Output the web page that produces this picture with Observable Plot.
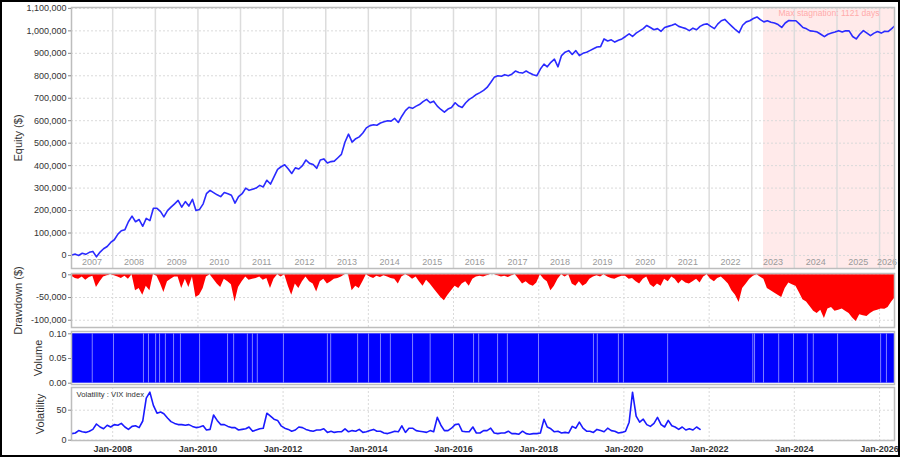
<!DOCTYPE html>
<html><head><meta charset="utf-8">
<script src="https://cdn.jsdelivr.net/npm/d3@7"></script>
<script src="https://cdn.jsdelivr.net/npm/@observablehq/plot@0.6"></script>
<style>
html,body{margin:0;padding:0;background:#fff;}
#wrap{position:relative;width:900px;height:457px;overflow:hidden;background:#fff;}
#wrap svg{position:absolute;left:0;}
#border{position:absolute;left:0;top:0;width:900px;height:457px;box-sizing:border-box;border:2px solid #000;pointer-events:none;z-index:5;}
</style></head><body>
<div id="wrap"><div id="border"></div></div>
<script>
// ---------- DATA ----------
// Equity in $ thousands, monthly samples starting Jan 2007
const equityStart = "2007-01-15";
const equity = [
  2, 6, 0, 10, 5, 14, 18, -6, 15, 30, 40, 58,
  70, 95, 110, 115, 150, 175, 150, 160, 130, 165, 155, 210,
  210, 195, 172, 200, 215, 230, 245, 215, 240, 220, 250, 200,
  205, 230, 275, 290, 280, 270, 262, 280, 275, 268, 233, 262,
  275, 300, 290, 295, 300, 312, 305, 335, 318, 350, 383, 395,
  404, 385, 365, 390, 385, 400, 425, 410, 405, 388, 425, 430,
  412, 418, 420, 435, 450, 505, 540, 505, 520, 528, 545, 568,
  578, 582, 580, 590, 595, 600, 598, 610, 592, 620, 645, 660,
  655, 665, 672, 685, 695, 680, 687, 665, 650, 638, 652, 659,
  680, 665, 659, 680, 695, 705, 717, 725, 735, 748, 770, 793,
  800, 798, 805, 800, 807, 821, 815, 812, 821, 812, 805, 800,
  830, 852, 840, 860, 874, 840, 890, 905, 912, 895, 912, 890,
  900, 905, 912, 920, 928, 930, 964, 955, 960, 950, 958, 964,
  975, 987, 975, 990, 1000, 1010, 1024, 1015, 1005, 1010, 998, 1015,
  1020, 1025, 1031, 1020, 1015, 1010, 1001, 1012, 1005, 1020, 1028, 1031,
  1020, 1010, 1030, 1045, 1051, 1035, 1020, 1005, 992, 1025, 1040, 1045,
  1055, 1062, 1050, 1040, 1045, 1038, 1035, 1028, 1015, 1035, 1046, 1045,
  1045, 1030, 1015, 1009, 1000, 998, 995, 985, 974, 985, 990, 995,
  1001, 995, 1000, 1000, 975, 964, 985, 1001, 990, 979, 990, 997,
  990, 998, 997, 1010, 1024
];
const equityTicks = [0, 100, 200, 300, 400, 500, 600, 700, 800, 900, 1000, 1100];

// Drawdown in $ thousands, monthly samples starting Jan 2007
const drawdownStart = "2007-01-15";
const drawdown = [
  -3, -8, -10, -5, -12, -6, -3, -28, -15, -5, -2, 0,
  -2, -5, -8, -3, -10, 0, -35, -30, -45, -25, -35, 0,
  -3, -20, -39, -15, -10, -5, -5, -30, -10, -28, -5, -50,
  -45, -30, -5, 0, -10, -20, -28, -10, -15, -22, -60, -28,
  -15, -5, -12, -10, -8, -5, -12, -8, -30, -10, 0, -5,
  0, -25, -45, -20, -30, -15, -5, -15, -20, -38, -15, -10,
  -20, -15, -10, -8, -5, 0, 0, -35, -25, -30, -15, 0,
  -5, -8, -3, -6, -2, -5, -8, -10, -20, -5, 0, -3,
  -10, -5, -15, -25, -12, -20, -30, -40, -50, -57, -45, -35,
  -25, -30, -20, -15, -25, -10, -5, -3, -5, -2, 0, 0,
  -2, -5, -3, -6, -2, 0, -10, -20, -15, -22, -25, -18,
  0, -10, -15, -35, -25, -10, 0, -5, 0, -20, -25, -15,
  -25, -20, -10, -5, -2, -5, 0, -5, -8, -10, -6, -3,
  -3, -10, -8, -15, -20, -10, -5, -22, -28, -20, -25, -10,
  -15, -5, -10, -20, -12, -18, -20, -15, -10, -18, -5, 0,
  -10, -15, -8, -5, -12, -20, -35, -45, -61, -30, -20, -10,
  -3, 0, -5, -10, -30, -35, -40, -45, -50, -30, -18, -22,
  -25, -40, -55, -60, -70, -80, -85, -78, -96, -75, -72, -80,
  -78, -75, -80, -85, -95, -103, -88, -90, -92, -85, -80, -78,
  -75, -76, -72, -60, -50
];
const drawdownTicks = [0, -50, -100];

// Volume: constant level with days of no trading (gaps)
const volumeLevel = 0.1;
const volumeGaps = [
  "2007-07-10","2008-01-08","2008-09-21","2008-11-03","2009-01-03","2009-02-06","2009-03-28",
  "2009-06-06","2009-08-04","2010-01-15","2010-09-12","2010-11-03","2011-03-01","2011-04-13",
  "2011-05-25","2012-01-04","2013-01-15","2013-02-12","2013-10-01","2014-01-03","2014-04-15",
  "2014-07-09","2015-01-15","2015-06-15","2016-01-01","2016-06-21","2016-08-04","2017-01-13",
  "2017-04-07","2017-12-30","2019-04-15","2019-05-18","2019-11-15","2019-12-28","2021-01-10",
  "2023-01-10","2023-01-25","2023-04-12","2023-08-20","2023-12-25","2024-04-22","2024-06-12",
  "2025-01-06","2026-01-10","2026-03-01"
];
const volumeTicks = [0, 0.05, 0.1];

// VIX index, monthly samples from Jan 2007 to Oct 2021
const vixStart = "2007-01-15";
const vix = [
  11, 12, 16, 14, 13, 15, 18, 27, 22, 19, 25, 22,
  26, 25, 28, 22, 18, 23, 24, 21, 32, 70, 80, 58,
  45, 47, 44, 37, 31, 28, 26, 26, 25, 26, 23, 21,
  22, 24, 17, 18, 42, 33, 26, 26, 23, 21, 21, 17,
  18, 19, 22, 15, 17, 19, 20, 45, 40, 35, 33, 24,
  20, 18, 15, 17, 22, 21, 18, 16, 15, 17, 17, 19,
  13, 15, 13, 14, 14, 19, 14, 16, 15, 18, 13, 14,
  16, 18, 15, 15, 12, 11, 13, 15, 14, 24, 13, 20,
  20, 16, 15, 14, 13, 16, 14, 38, 25, 16, 16, 20,
  26, 27, 15, 14, 14, 22, 12, 12, 16, 16, 20, 12,
  11, 12, 12, 15, 11, 11, 10, 15, 11, 10, 11, 11,
  12, 35, 22, 19, 14, 15, 12, 13, 12, 23, 20, 30,
  20, 15, 15, 13, 18, 16, 14, 20, 16, 15, 12, 13,
  15, 30, 80, 40, 30, 35, 26, 23, 28, 38, 26, 22,
  33, 24, 22, 18, 22, 17, 19, 17, 22, 18
];
const vixTicks = [0, 50];

const yearLabels = ["2007","2008","2009","2010","2011","2012","2013","2014","2015","2016",
  "2017","2018","2019","2020","2021","2022","2023","2024","2025","2026"];
const dateTicks = ["2008-01-01","2010-01-01","2012-01-01","2014-01-01","2016-01-01",
  "2018-01-01","2020-01-01","2022-01-01","2024-01-01","2026-01-01"];
const stagnationStart = "2023-04-12";
const stagnationDays = 1121;
const periodStart = "2007-01-13", periodEnd = "2026-05-09";

// ---------- BUILD ----------
const P = s => new Date(s + "T00:00:00Z");
const X0 = P(periodStart), X1 = P(periodEnd);
const eqData = equity.map((v, i) => ({date: d3.utcMonth.offset(P(equityStart), i), v}));
const ddData = drawdown.map((v, i) => ({date: d3.utcMonth.offset(P(drawdownStart), i), v}));
const vixData = vix.map((v, i) => ({date: d3.utcMonth.offset(P(vixStart), i), v}));
const yearBounds = yearLabels.slice(1).map(y => P(y + "-01-01"));
const yearLabelData = yearLabels.map(y => {
  const a = Math.max(+X0, +P(y + "-01-01")), b = Math.min(+X1, +P((+y + 1) + "-01-01"));
  return {label: y, x: new Date((a + b) / 2)};
});
const tickDates = dateTicks.map(P);
const gapDates = volumeGaps.map(P);
const stagStart = P(stagnationStart);

const FONT = '"Liberation Sans", Arial, Helvetica, sans-serif';
const common = {
  width: 900, marginLeft: 71, marginRight: 6,
  x: {type: "utc", domain: [X0, X1], axis: null},
  style: {fontFamily: FONT, fontSize: "9px", color: "#333", background: "transparent", overflow: "visible"}
};
const gridCol = "#dadada";
const frameCol = "#bdbdbd";
const fmtK = v => (v * 1000).toLocaleString("en-US");
const axisLabel = (t, dx) => Plot.text([t], {frameAnchor: "left", dx, rotate: -90, textAnchor: "middle",
  fontSize: 11, fill: "#333", fontFamily: FONT});
const yAxis = (ticks, fmt) => Plot.axisY(ticks, {tickSize: 3, tickPadding: 2, tickFormat: fmt, label: null,
  fill: "#333", stroke: "#888"});

const wrap = document.getElementById("wrap");
function place(svg, top) { svg.style.top = top + "px"; wrap.appendChild(svg); }

// Equity panel
place(Plot.plot({
  ...common, height: 270, marginTop: 7, marginBottom: 2,
  y: {domain: [-58, 1104], axis: null},
  marks: [
    Plot.rect([stagnationDays], {x1: stagStart, x2: X1, y1: -58, y2: 1104, fill: "#ffeaea"}),
    Plot.ruleY(equityTicks, {stroke: gridCol, strokeDasharray: "2,2"}),
    Plot.ruleX(yearBounds, {stroke: "#dcdcdc", strokeWidth: 1.5}),
    Plot.text(yearLabelData, {x: "x", y: -28, text: "label", fill: "#9a9a9a", fontSize: 9}),
    Plot.text([stagnationDays], {x: new Date((+stagStart + +X1) / 2), frameAnchor: "top", dy: 2,
      text: d => `Max stagnation: ${d} days`, fill: "#ffabab", fontSize: 8.5}),
    Plot.lineY(eqData, {x: "date", y: "v", stroke: "#2a2aff", strokeWidth: 1.6, clip: true}),
    Plot.frame({stroke: frameCol, strokeWidth: 1.5}),
    yAxis(equityTicks, fmtK),
    axisLabel("Equity ($)", -53)
  ]
}), 0);

// Drawdown panel
place(Plot.plot({
  ...common, height: 58, marginTop: 3, marginBottom: 1,
  y: {domain: [-116, 2.9], axis: null},
  marks: [
    Plot.ruleY(drawdownTicks, {stroke: gridCol, strokeDasharray: "2,2"}),
    Plot.ruleX(tickDates, {stroke: gridCol, strokeDasharray: "2,2"}),
    Plot.areaY(ddData, {x: "date", y1: 0, y2: "v", fill: "#ff0000", curve: "linear", clip: true}),
    Plot.frame({stroke: frameCol, strokeWidth: 1.5}),
    yAxis(drawdownTicks, fmtK),
    axisLabel("Drawdown ($)", -53)
  ]
}), 270);

// Volume panel
place(Plot.plot({
  ...common, height: 58, marginTop: 3, marginBottom: 2,
  y: {domain: [-0.00263, 0.10466], axis: null},
  marks: [
    Plot.rect([volumeLevel], {x1: X0, x2: X1, y1: 0, y2: d => d, fill: "#0000ff"}),
    Plot.ruleX(gapDates, {y1: 0, y2: volumeLevel, stroke: "#8c8cff", strokeWidth: 0.9}),
    Plot.frame({stroke: frameCol, strokeWidth: 1.5}),
    yAxis(volumeTicks, d3.format(".2f")),
    axisLabel("Volume", -33)
  ]
}), 328);

// Volatility panel
place(Plot.plot({
  ...common, height: 72, marginTop: 2, marginBottom: 17,
  y: {domain: [-0.5, 87.8], axis: null},
  marks: [
    Plot.ruleY(vixTicks, {stroke: gridCol, strokeDasharray: "2,2"}),
    Plot.ruleX(tickDates, {stroke: gridCol, strokeDasharray: "2,2"}),
    Plot.lineY(vixData, {x: "date", y: "v", stroke: "#1a1aff", strokeWidth: 1.6}),
    Plot.text(["Volatility : VIX index"], {frameAnchor: "top-left", dx: 5, dy: 4, fill: "#333", fontSize: 7.7}),
    Plot.frame({stroke: frameCol, strokeWidth: 1.5}),
    yAxis(vixTicks, d => d),
    Plot.axisX(tickDates, {tickSize: 0, tickPadding: 5, tickFormat: d => "Jan-" + d.getUTCFullYear(),
      label: null, fill: "#333", fontWeight: "bold", fontSize: 9}),
    axisLabel("Volatility", -31)
  ]
}), 385);
</script>
</body></html>
